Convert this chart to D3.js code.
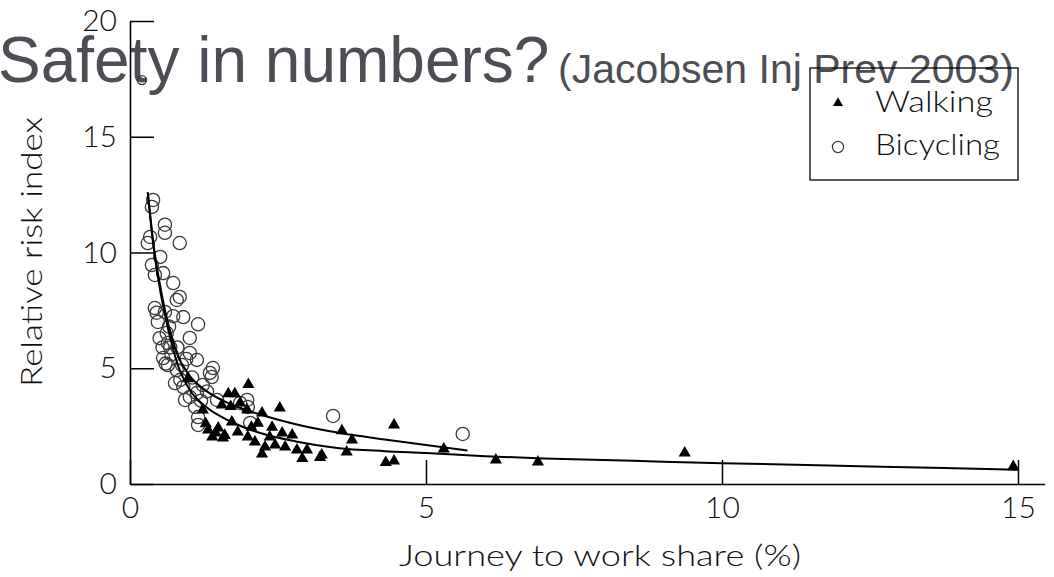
<!DOCTYPE html>
<html>
<head>
<meta charset="utf-8">
<script src="https://cdn.jsdelivr.net/npm/d3@7"></script>
<style>
  html, body { margin: 0; padding: 0; background: #fff; }
  svg { display: block; }
</style>
</head>
<body>
<svg id="chart" width="1054" height="577"></svg>
<script>
// Walking: journey-to-work share (%) and relative risk index
const walkX = [0.98, 2.00, 1.66, 1.77, 1.55, 1.86, 1.98, 2.53, 1.23, 2.23,
               1.72, 2.16, 1.32, 1.49, 1.39, 1.57, 1.82, 1.99, 2.11, 2.36,
               2.57, 2.74, 2.28, 2.45, 2.62, 2.23, 2.82, 2.99, 2.91, 3.21,
               3.24, 3.58, 3.75, 3.66, 4.46, 4.32, 4.46, 5.30, 6.18, 6.89,
               9.37, 14.92, 1.45, 1.60, 2.05, 1.28, 1.70, 2.40];
const walkY = [4.55, 4.30, 3.90, 3.90, 3.41, 3.50, 3.20, 3.28, 3.20, 3.07,
               2.68, 2.63, 2.33, 2.42, 2.03, 1.99, 2.25, 2.03, 1.81, 2.03,
               2.20, 2.12, 1.60, 1.68, 1.60, 1.30, 1.47, 1.47, 1.10, 1.15,
               1.25, 2.30, 1.90, 1.38, 2.55, 0.93, 0.99, 1.51, 1.04, 0.95,
               1.34, 0.75, 2.20, 2.10, 2.45, 2.60, 3.35, 2.45];

// Bicycling: journey-to-work share (%) and relative risk index
const bikeX = [0.39, 0.37, 0.59, 0.59, 0.84, 0.34, 0.30, 0.51, 0.37, 0.56,
               0.42, 0.73, 0.84, 0.79, 0.42, 0.59, 0.47, 0.73, 0.90, 1.15,
               1.01, 0.62, 0.64, 0.56, 0.64, 1.01, 1.13, 0.88, 1.40, 1.38,
               0.76, 0.93, 1.13, 1.23, 1.10, 1.15, 1.47, 1.86, 1.98, 1.15,
               0.79, 1.35, 0.90, 1.01, 1.99, 2.03, 3.43, 5.62, 0.20, 0.68,
               0.50, 0.55, 0.70, 0.60, 0.80, 0.95, 1.05, 0.85, 1.20, 1.30,
               0.45, 0.66];
const bikeY = [12.27, 11.97, 11.20, 10.85, 10.41, 10.67, 10.41, 9.81, 9.46, 9.11,
               9.03, 8.68, 8.08, 7.95, 7.60, 7.43, 7.00, 7.25, 7.21, 6.90,
               6.31, 6.52, 6.09, 5.44, 5.14, 5.66, 5.36, 5.14, 5.01, 4.62,
               4.36, 3.63, 3.93, 4.28, 3.33, 2.89, 3.63, 3.50, 3.63, 2.55,
               4.92, 4.80, 4.19, 3.76, 3.33, 2.64, 2.94, 2.16, 17.45, 5.90,
               6.30, 5.90, 5.60, 5.20, 5.90, 5.40, 4.60, 4.50, 3.60, 4.00,
               7.40, 6.80];

// Fitted curves
const walkFitX = [0.30, 0.40, 0.50, 0.60, 0.70, 0.80, 1.00, 1.30, 1.70, 2.20,
                  2.80, 3.50, 4.30, 5.00, 6.00, 7.00, 8.50, 10.0, 12.5, 15.0];
const walkFitY = [12.6, 10.2, 8.50, 7.20, 6.10, 5.20, 4.10, 3.30, 2.70, 2.20,
                  1.84, 1.56, 1.42, 1.34, 1.20, 1.10, 1.00, 0.90, 0.76, 0.62];
const bikeFitX = [0.30, 0.40, 0.50, 0.60, 0.70, 0.80, 1.00, 1.30, 1.70, 2.20,
                  2.80, 3.50, 4.30, 5.00, 5.70];
const bikeFitY = [12.6, 10.3, 8.70, 7.40, 6.40, 5.60, 4.70, 4.00, 3.45, 3.00,
                  2.58, 2.22, 1.92, 1.68, 1.45];

const xTicks = [0, 5, 10, 15];
const yTicks = [0, 5, 10, 15, 20];

const titleMain = "Safety in numbers?";
const titleRef = "(Jacobsen Inj Prev 2003)";
const xLabel = "Journey to work share (%)";
const yLabel = "Relative risk index";
const seriesNames = ["Walking", "Bicycling"];

const svg = d3.select("#chart");
const chartFont = "Lato, 'Open Sans', sans-serif";

// Slide title (drawn first, the figure sits on top of it)
svg.append("text")
  .attr("x", -2).attr("y", 82)
  .attr("font-family", "'Liberation Sans', Arial, sans-serif")
  .attr("font-size", 64)
  .attr("fill", "#4b4e55")
  .text(titleMain);
svg.append("text")
  .attr("x", 558).attr("y", 83)
  .attr("font-family", "'Liberation Sans', Arial, sans-serif")
  .attr("font-size", 41)
  .attr("fill", "#4b4e55")
  .text(titleRef);

const x = d3.scaleLinear().domain([0, 15.45]).range([130, 130 + 15.45 * 59.2]);
const y = d3.scaleLinear().domain([0, 20]).range([484, 21]);

const plot = svg.append("g");

// Bicycling markers: open circles
plot.append("g").selectAll("circle")
  .data(d3.range(bikeX.length))
  .join("circle")
  .attr("cx", i => x(bikeX[i]))
  .attr("cy", i => y(bikeY[i]))
  .attr("r", i => bikeY[i] > 15 ? 4.5 : 6.6)
  .attr("fill", "none")
  .attr("stroke", "#3a3a3a")
  .attr("stroke-width", 1.3);

// Walking markers: filled triangles
const tri = d3.symbol().type(d3.symbolTriangle).size(64);
plot.append("g").selectAll("path")
  .data(d3.range(walkX.length))
  .join("path")
  .attr("d", tri)
  .attr("transform", i => `translate(${x(walkX[i])},${y(walkY[i])})`)
  .attr("fill", "#000");

// Fitted curves
const line = d3.line().x(d => x(d[0])).y(d => y(d[1])).curve(d3.curveMonotoneX);
[[walkFitX, walkFitY], [bikeFitX, bikeFitY]].forEach(([fx, fy]) => {
  plot.append("path")
    .datum(fx.map((v, i) => [v, fy[i]]))
    .attr("d", line)
    .attr("fill", "none")
    .attr("stroke", "#000")
    .attr("stroke-width", 2);
});

// Axes with inward ticks
const xAxis = d3.axisBottom(x).tickValues(xTicks).tickSizeInner(-24).tickSizeOuter(0).tickPadding(13);
const yAxis = d3.axisLeft(y).tickValues(yTicks).tickSizeInner(-24).tickSizeOuter(0).tickPadding(13);

const gx = svg.append("g").attr("transform", "translate(0,484)").call(xAxis);
const gy = svg.append("g").attr("transform", "translate(130,0)").call(yAxis);
[gx, gy].forEach(g => {
  g.selectAll("path.domain").attr("stroke", "#000").attr("stroke-width", 1.6);
  g.selectAll(".tick line").attr("stroke", "#000").attr("stroke-width", 1.5);
  g.selectAll(".tick text")
    .attr("font-family", chartFont)
    .attr("font-size", 30)
    .attr("font-weight", 300)
    .attr("fill", "#111");
});

// Axis titles
svg.append("text")
  .attr("transform", "translate(42,252) rotate(-90)")
  .attr("text-anchor", "middle")
  .attr("font-family", chartFont)
  .attr("font-size", 30)
  .attr("font-weight", 300)
  .attr("textLength", 270)
  .attr("lengthAdjust", "spacingAndGlyphs")
  .attr("fill", "#111")
  .text(yLabel);
svg.append("text")
  .attr("x", 600).attr("y", 566)
  .attr("text-anchor", "middle")
  .attr("font-family", chartFont)
  .attr("font-size", 30)
  .attr("font-weight", 300)
  .attr("textLength", 402)
  .attr("lengthAdjust", "spacingAndGlyphs")
  .attr("fill", "#111")
  .text(xLabel);

// Legend
const lg = svg.append("g");
lg.append("rect")
  .attr("x", 810).attr("y", 68).attr("width", 208).attr("height", 112)
  .attr("fill", "none").attr("stroke", "#000").attr("stroke-width", 1.3);
lg.append("path")
  .attr("d", d3.symbol().type(d3.symbolTriangle).size(44)())
  .attr("transform", "translate(838,103)")
  .attr("fill", "#000");
lg.append("circle")
  .attr("cx", 838).attr("cy", 147).attr("r", 5.6)
  .attr("fill", "none").attr("stroke", "#3a3a3a").attr("stroke-width", 1.2);
const legendWidths = [118, 125];
lg.selectAll("text")
  .data(seriesNames)
  .join("text")
  .attr("x", 875)
  .attr("y", (d, i) => 112 + i * 43)
  .attr("font-family", chartFont)
  .attr("font-size", 30)
  .attr("font-weight", 300)
  .attr("textLength", (d, i) => legendWidths[i])
  .attr("lengthAdjust", "spacingAndGlyphs")
  .attr("fill", "#111")
  .text(d => d);
</script>
</body>
</html>
